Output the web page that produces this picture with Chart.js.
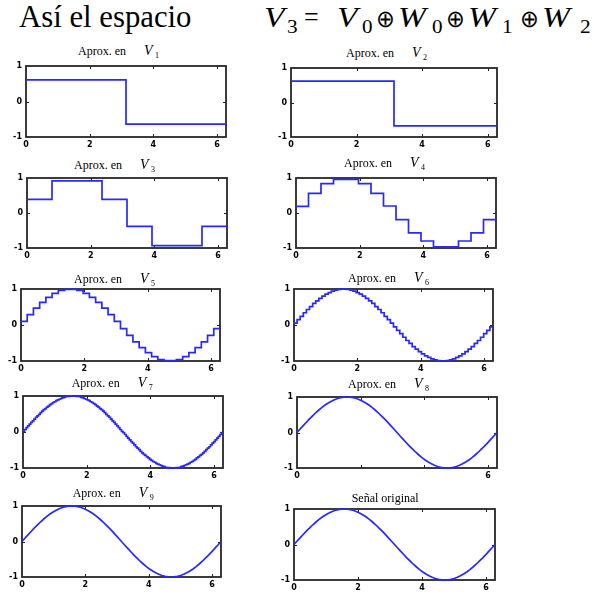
<!DOCTYPE html>
<html><head><meta charset="utf-8">
<script src="https://cdn.jsdelivr.net/npm/chart.js@4.4.1/dist/chart.umd.min.js"></script>
<style>
html,body{margin:0;padding:0;background:#fff;}
#root{position:relative;width:594px;height:594px;overflow:hidden;background:#fff;font-family:"Liberation Serif",serif;}
#root canvas{position:absolute;}
#root span{position:absolute;white-space:nowrap;color:#000;}
</style></head><body><div id="root"></div>
<script>
// ---------------- data ----------------
const xTicks = [0, 2, 4, 6];
const xTickLabels = ['0', '2', '4', '6'];
const xTickLabelsV8 = ['0', '', '', '6'];
const yTicks = [-1, 0, 1];
const yTickLabels = ['-1', '0', '1'];
const xMax = 6.2832;

const panelTitles = ['V1', 'V2', 'V3', 'V4', 'V5', 'V6', 'V7', 'V8', 'V9', 'Señal original'];

const v1 = [0.61, -0.64];
const v2 = [0.62, 0.62, -0.68, -0.68];
const v3 = [0.39, 0.92, 0.92, 0.39, -0.38, -0.93, -0.93, -0.38];
const v4 = [0.19, 0.56, 0.84, 0.96, 0.96, 0.84, 0.56, 0.2, -0.19, -0.57, -0.8, -0.97, -0.97, -0.8, -0.57, -0.19];
const v5 = [0.1, 0.29, 0.47, 0.63, 0.77, 0.88, 0.96, 0.99, 0.99, 0.96, 0.88, 0.77, 0.63, 0.47, 0.29, 0.1,
  -0.1, -0.29, -0.47, -0.63, -0.77, -0.88, -0.96, -0.99, -0.99, -0.96, -0.88, -0.77, -0.63, -0.47, -0.29, -0.1];
const v6 = [0.05, 0.15, 0.24, 0.34, 0.43, 0.51, 0.6, 0.67, 0.74, 0.8, 0.86, 0.9, 0.94, 0.97, 0.99, 1.0,
  1.0, 0.99, 0.97, 0.94, 0.9, 0.86, 0.8, 0.74, 0.67, 0.6, 0.51, 0.43, 0.34, 0.24, 0.15, 0.05,
  -0.05, -0.15, -0.24, -0.34, -0.43, -0.51, -0.6, -0.67, -0.74, -0.8, -0.86, -0.9, -0.94, -0.97, -0.99, -1.0,
  -1.0, -0.99, -0.97, -0.94, -0.9, -0.86, -0.8, -0.74, -0.67, -0.6, -0.51, -0.43, -0.34, -0.24, -0.15, -0.05];
const v7 = [0.02, 0.07, 0.12, 0.17, 0.22, 0.27, 0.31, 0.36, 0.41, 0.45, 0.49, 0.54, 0.58, 0.62, 0.65, 0.69,
  0.72, 0.76, 0.79, 0.82, 0.84, 0.87, 0.89, 0.91, 0.93, 0.95, 0.96, 0.98, 0.99, 0.99, 1.0, 1.0,
  1.0, 1.0, 0.99, 0.99, 0.98, 0.96, 0.95, 0.93, 0.91, 0.89, 0.87, 0.84, 0.82, 0.79, 0.76, 0.72,
  0.69, 0.65, 0.62, 0.58, 0.54, 0.49, 0.45, 0.41, 0.36, 0.31, 0.27, 0.22, 0.17, 0.12, 0.07, 0.02,
  -0.02, -0.07, -0.12, -0.17, -0.22, -0.27, -0.31, -0.36, -0.41, -0.45, -0.49, -0.54, -0.58, -0.62, -0.65, -0.69,
  -0.72, -0.76, -0.79, -0.82, -0.84, -0.87, -0.89, -0.91, -0.93, -0.95, -0.96, -0.98, -0.99, -0.99, -1.0, -1.0,
  -1.0, -1.0, -0.99, -0.99, -0.98, -0.96, -0.95, -0.93, -0.91, -0.89, -0.87, -0.84, -0.82, -0.79, -0.76, -0.72,
  -0.69, -0.65, -0.62, -0.58, -0.54, -0.49, -0.45, -0.41, -0.36, -0.31, -0.27, -0.22, -0.17, -0.12, -0.07, -0.02];
// original signal sampled at 65 points over [0, 2π]
const senal = [0, 0.098, 0.195, 0.29, 0.383, 0.471, 0.556, 0.634, 0.707, 0.773, 0.831, 0.882, 0.924, 0.957, 0.981, 0.995,
  1, 0.995, 0.981, 0.957, 0.924, 0.882, 0.831, 0.773, 0.707, 0.634, 0.556, 0.471, 0.383, 0.29, 0.195, 0.098,
  0, -0.098, -0.195, -0.29, -0.383, -0.471, -0.556, -0.634, -0.707, -0.773, -0.831, -0.882, -0.924, -0.957, -0.981, -0.995,
  -1, -0.995, -0.981, -0.957, -0.924, -0.882, -0.831, -0.773, -0.707, -0.634, -0.556, -0.471, -0.383, -0.29, -0.195, -0.098, 0];
// V8 and V9 are visually identical to the original at this resolution
const v8 = senal;
const v9 = senal;

// ---------------- layout ----------------
const root = document.getElementById('root');
const mctx = document.createElement('canvas').getContext('2d');
const SERIF = '"Liberation Serif", "Times New Roman", serif';

function place(text, o) {
  const font = `${o.style || 'normal'} normal ${o.size}px ${o.family || SERIF}`;
  mctx.font = font;
  const m = mctx.measureText(text);
  const ink = m.actualBoundingBoxLeft + m.actualBoundingBoxRight;
  let sx = 1, left = o.x + m.actualBoundingBoxLeft;
  if (o.w) {
    sx = Math.min(Math.max(o.w / ink, 0.85), o.maxs || 1.12);
    // centre the ink inside the target box
    left = o.x + (o.w - ink * sx) / 2 + m.actualBoundingBoxLeft * sx;
  }
  const asc = m.fontBoundingBoxAscent, desc = m.fontBoundingBoxDescent;
  const el = document.createElement('span');
  el.textContent = text;
  el.style.fontFamily = o.family || SERIF;
  el.style.fontSize = o.size + 'px';
  el.style.fontStyle = o.style || 'normal';
  el.style.lineHeight = (asc + desc) + 'px';
  el.style.left = left + 'px';
  el.style.top = (o.baseline - asc) + 'px';
  if (sx !== 1) { el.style.transform = `scaleX(${sx})`; el.style.transformOrigin = '0 0'; }
  root.appendChild(el);
}

// main heading
place('Así el espacio', {x: 19, w: 172, baseline: 27, size: 31});
const eq = [
  ['V', 261.7, 30, 27.3, 30, 'italic'], ['3', 286.5, 12, 32.7, 19, 'normal'],
  ['=', 305, 13, 26, 28, 'normal'],
  ['V', 335, 30, 27.3, 30, 'italic'], ['0', 361.7, 10, 32.7, 19, 'normal'],
  ['⊕', 378, 15, 27, 24, 'normal'],
  ['W', 396.7, 35, 27.3, 30, 'italic'], ['0', 431.7, 10, 32.7, 19, 'normal'],
  ['⊕', 448, 15, 27, 24, 'normal'],
  ['W', 466.7, 36, 27.3, 30, 'italic'], ['1', 503, 9, 32.7, 19, 'normal'],
  ['⊕', 521.7, 15, 27, 24, 'normal'],
  ['W', 540, 36, 27.3, 30, 'italic'], ['2', 580, 11, 32.7, 19, 'normal']
];
eq.forEach(t => place(t[0], {x: t[1], w: t[2], baseline: t[3], size: t[4], style: t[5]}));

const panels = [
  {vals: v1, kind: 'step', rect: [26, 66, 226, 137], tx: 78, tb: 55},
  {vals: v2, kind: 'step', rect: [291, 68, 497, 137], tx: 346, tb: 57},
  {vals: v3, kind: 'step', rect: [27, 178, 227, 248], tx: 74, tb: 169},
  {vals: v4, kind: 'step', rect: [296, 178, 496, 248], tx: 344, tb: 166.5},
  {vals: v5, kind: 'step', rect: [21, 289, 220, 361], tx: 74, tb: 283},
  {vals: v6, kind: 'step', rect: [294, 289, 493, 361], tx: 348, tb: 282},
  {vals: v7, kind: 'step', rect: [23, 396, 223, 468], tx: 71.7, tb: 387},
  {vals: v8, kind: 'line', rect: [297, 397, 497, 468], tx: 348, tb: 388.3, xl: xTickLabelsV8},
  {vals: v9, kind: 'line', rect: [22, 506, 221, 577], tx: 72.7, tb: 496.7},
  {vals: senal, kind: 'line', rect: [294, 509, 495, 580], tx: 351.7, tb: 501.7}
];

const boxPlugin = {
  id: 'box',
  beforeDatasetsDraw(chart) {
    const {ctx, chartArea: a, scales: {x, y}} = chart;
    ctx.save();
    ctx.lineWidth = 1;
    ctx.strokeStyle = '#222';
    ctx.beginPath();
    xTicks.forEach(v => {
      if (v === 0) return;
      const px = Math.round(x.getPixelForValue(v)) + 0.5;
      ctx.moveTo(px, a.bottom); ctx.lineTo(px, a.bottom - 3);
      ctx.moveTo(px, a.top); ctx.lineTo(px, a.top + 3);
    });
    yTicks.forEach(v => {
      if (v !== 0) return;
      const py = Math.round(y.getPixelForValue(v)) + 0.5;
      ctx.moveTo(a.left, py); ctx.lineTo(a.left + 3, py);
      ctx.moveTo(a.right, py); ctx.lineTo(a.right - 3, py);
    });
    ctx.stroke();
    ctx.lineWidth = 1.8;
    ctx.strokeStyle = '#262626';
    ctx.strokeRect(a.left, a.top, a.width, a.height);
    ctx.restore();
  }
};

const PADL = 30, PADT = 6, PADR = 6, PADB = 16;
const tickFont = {family: '"DejaVu Sans", sans-serif', size: 8, weight: 'bold'};

panels.forEach((p, i) => {
  const [L, T, R, B] = p.rect;
  const cv = document.createElement('canvas');
  cv.width = (R - L) + PADL + PADR;
  cv.height = (B - T) + PADT + PADB;
  cv.style.left = (L - PADL) + 'px';
  cv.style.top = (T - PADT) + 'px';
  root.appendChild(cv);

  const n = p.vals.length;
  let pts;
  if (p.kind === 'step') {
    pts = p.vals.map((v, k) => ({x: k * xMax / n, y: v}));
    pts.push({x: xMax, y: p.vals[n - 1]});
  } else {
    pts = p.vals.map((v, k) => ({x: k * xMax / (n - 1), y: v}));
  }
  const xl = p.xl || xTickLabels;

  new Chart(cv, {
    type: 'line',
    data: {datasets: [{
      data: pts, borderColor: '#2828ff', borderWidth: 1.7, pointRadius: 0,
      stepped: p.kind === 'step' ? 'before' : false, tension: 0, clip: 4, fill: false
    }]},
    options: {
      responsive: false, animation: false, devicePixelRatio: 1,
      events: [],
      layout: {padding: {top: PADT, right: PADR, left: 0, bottom: 0}},
      plugins: {legend: {display: false}, tooltip: {enabled: false}, title: {display: false}},
      scales: {
        x: {
          type: 'linear', min: 0, max: xMax,
          afterBuildTicks: s => { s.ticks = xTicks.map(v => ({value: v})); },
          afterFit: s => { s.height = PADB; s.paddingLeft = 0; s.paddingRight = 0; },
          grid: {display: false, drawTicks: false}, border: {display: false},
          ticks: {font: tickFont, color: '#000', padding: 3, maxRotation: 0, autoSkip: false,
            callback: (v, idx) => xl[idx]}
        },
        y: {
          type: 'linear', min: -1, max: 1,
          afterBuildTicks: s => { s.ticks = yTicks.map(v => ({value: v})); },
          afterFit: s => { s.width = PADL; s.paddingTop = 0; s.paddingBottom = 0; },
          grid: {display: false, drawTicks: false}, border: {display: false},
          ticks: {font: tickFont, color: '#000', padding: 4, callback: (v, idx) => yTickLabels[idx]}
        }
      }
    },
    plugins: [boxPlugin]
  });

  // panel title
  const t = panelTitles[i];
  if (t.startsWith('V')) {
    place('Aprox. en', {x: p.tx, baseline: p.tb, size: 12});
    place('V', {x: p.tx + 66, baseline: p.tb, size: 14, style: 'italic'});
    place(t.slice(1), {x: p.tx + 77, baseline: p.tb + 3, size: 8});
  } else {
    place(t, {x: p.tx, baseline: p.tb, size: 12});
  }
});
</script></body></html>
